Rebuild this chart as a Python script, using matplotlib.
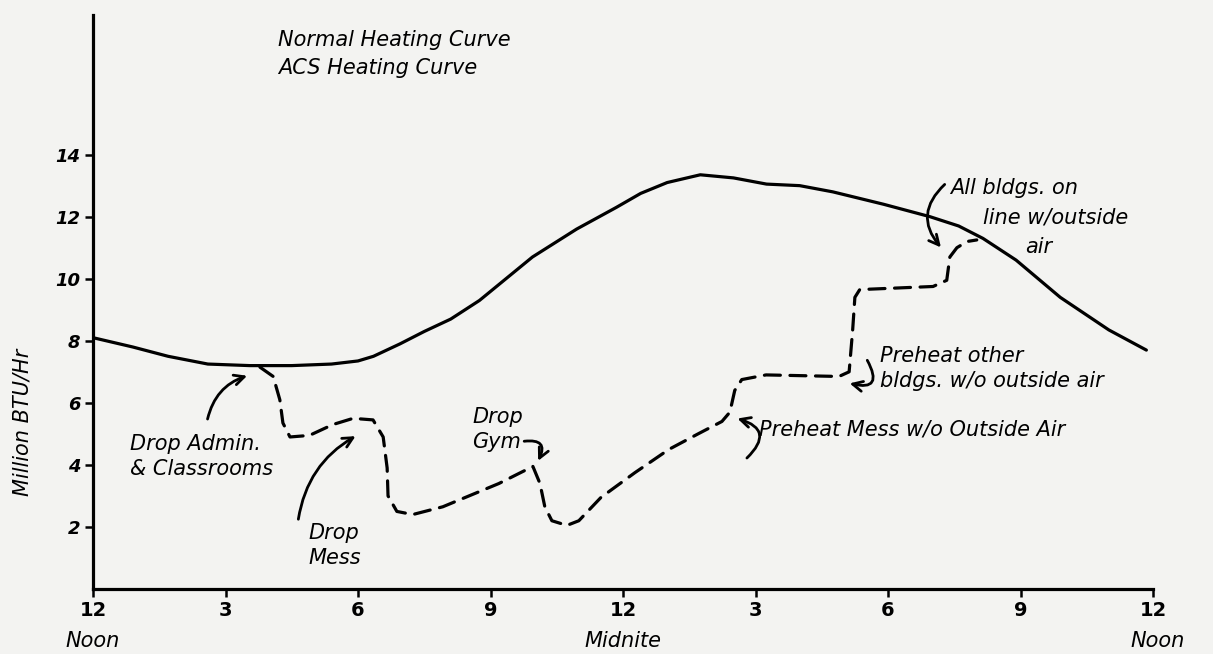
import matplotlib
matplotlib.use('Agg')
import matplotlib.pyplot as plt
import numpy as np

# hours after noon / million BTU per hour
normal_hr = [0, 0.9, 1.7, 2.6, 3.55, 4.5, 5.4, 6.0, 6.35, 6.95, 7.5, 8.1, 8.75,
             9.35, 9.95, 10.95, 11.85, 12.4, 13.0, 13.75, 14.5, 15.25, 16.0,
             16.75, 17.9, 18.95, 19.6, 20.15, 20.9, 21.9, 23.0, 23.85]
normal_val = [8.1, 7.8, 7.5, 7.25, 7.2, 7.2, 7.25, 7.35, 7.5, 7.9, 8.3, 8.7, 9.3,
              10.0, 10.7, 11.6, 12.3, 12.75, 13.1, 13.35, 13.25, 13.05, 13.0,
              12.8, 12.4, 12.0, 11.7, 11.3, 10.6, 9.4, 8.35, 7.7]

acs_hr = [3.78, 4.08, 4.23, 4.30, 4.46, 4.9, 5.43, 5.89, 6.34, 6.57, 6.66, 6.68,
          6.88, 7.24, 7.92, 9.19, 9.96, 10.12, 10.23, 10.39, 10.73, 11.0, 11.5,
          12.27, 13.04, 13.7, 14.24, 14.42, 14.53, 14.69, 15.24, 16.89, 17.12,
          17.2, 17.25, 17.36, 19.02, 19.33, 19.4, 19.56, 19.79, 20.01]
acs_val = [7.15, 6.85, 6.1, 5.35, 4.9, 4.95, 5.3, 5.5, 5.45, 4.9, 3.9, 3.0,
           2.5, 2.4, 2.65, 3.4, 3.95, 3.4, 2.65, 2.2, 2.05, 2.2, 2.95,
           3.75, 4.5, 5.0, 5.4, 5.7, 6.4, 6.75, 6.9, 6.85, 7.0,
           8.35, 9.4, 9.65, 9.75, 9.95, 10.7, 11.0, 11.2, 11.25]

x_ticks = [0, 3, 6, 9, 12, 15, 18, 21, 24]
x_labels = ['12', '3', '6', '9', '12', '3', '6', '9', '12']
y_ticks = [2, 4, 6, 8, 10, 12, 14]

bg = '#f3f3f1'
hand = dict(family='DejaVu Sans', style='italic', fontsize=15, color='black')

fig = plt.figure(figsize=(12.13, 6.54), dpi=100, facecolor=bg)
ax = fig.add_axes([93/1213, 1-589/654, (1153-93)/1213, (589-15)/654])
ax.set_facecolor(bg)

ax.plot(normal_hr, normal_val, color='black', lw=2.3, solid_capstyle='round',
        solid_joinstyle='round')
ax.plot(acs_hr, acs_val, color='black', lw=2.3, dashes=(5, 3), dash_capstyle='round',
        dash_joinstyle='round')

ax.set_xlim(0, 24)
ax.set_ylim(0, 18.5)
for s in ['top', 'right']:
    ax.spines[s].set_visible(False)
for s in ['left', 'bottom']:
    ax.spines[s].set_linewidth(2.3)

ax.set_xticks(x_ticks)
ax.set_xticklabels(x_labels, fontsize=14, fontweight='bold')
ax.set_yticks(y_ticks)
ax.set_yticklabels([str(v) for v in y_ticks], fontsize=13, fontweight='bold', style='italic')
ax.tick_params(axis='both', direction='out', length=6, width=1.8, pad=3)

ax.set_ylabel('Million BTU/Hr', fontdict=hand)
ax.yaxis.set_label_coords(-0.057, 0.29)

# Noon / Midnite under the hour numbers
tr = ax.get_xaxis_transform()
ax.text(0, -0.09, 'Noon', transform=tr, ha='center', va='center', **hand)
ax.text(12, -0.09, 'Midnite', transform=tr, ha='center', va='center', **hand)
ax.text(24.1, -0.09, 'Noon', transform=tr, ha='center', va='center', **hand)

# key
ax.text(4.19, 17.7, 'Normal Heating Curve', ha='left', va='center', **hand)
ax.text(4.19, 16.8, 'ACS Heating Curve', ha='left', va='center', **hand)

# notes
ax.text(0.84, 4.26, 'Drop Admin.\n& Classrooms', ha='left', va='center', linespacing=1.3, **hand)
ax.text(4.87, 1.39, 'Drop\nMess', ha='left', va='center', linespacing=1.3, **hand)
ax.text(8.58, 5.13, 'Drop\nGym', ha='left', va='center', linespacing=1.3, **hand)
ax.text(15.08, 5.13, 'Preheat Mess w/o Outside Air', ha='left', va='center', **hand)
ax.text(17.82, 7.1, 'Preheat other\nbldgs. w/o outside air', ha='left', va='center', linespacing=1.3, **hand)
ax.text(19.4, 12.94, 'All bldgs. on', ha='left', va='center', **hand)
ax.text(20.15, 11.97, 'line w/outside', ha='left', va='center', **hand)
ax.text(21.1, 11.03, 'air', ha='left', va='center', **hand)

arrow = dict(arrowstyle='->', color='black', lw=2.0, mutation_scale=18)
ax.annotate('', xy=(3.55, 6.9), xytext=(2.58, 5.39),
            arrowprops=dict(connectionstyle='arc3,rad=-0.3', **arrow))
ax.annotate('', xy=(6.0, 4.97), xytext=(4.64, 2.16),
            arrowprops=dict(connectionstyle='arc3,rad=-0.25', **arrow))
ax.annotate('', xy=(10.05, 4.05), xytext=(9.7, 4.75),
            arrowprops=dict(connectionstyle='arc3,rad=-1.0', **arrow))
ax.annotate('', xy=(14.53, 5.52), xytext=(14.76, 4.16),
            arrowprops=dict(connectionstyle='arc3,rad=0.9', **arrow))
ax.annotate('', xy=(17.07, 6.65), xytext=(17.5, 7.45),
            arrowprops=dict(connectionstyle='arc3,rad=-1.2', **arrow))
ax.annotate('', xy=(19.24, 10.94), xytext=(19.33, 13.1),
            arrowprops=dict(connectionstyle='arc3,rad=0.5', **arrow))

fig.savefig('out.png', dpi=100, facecolor=bg)
